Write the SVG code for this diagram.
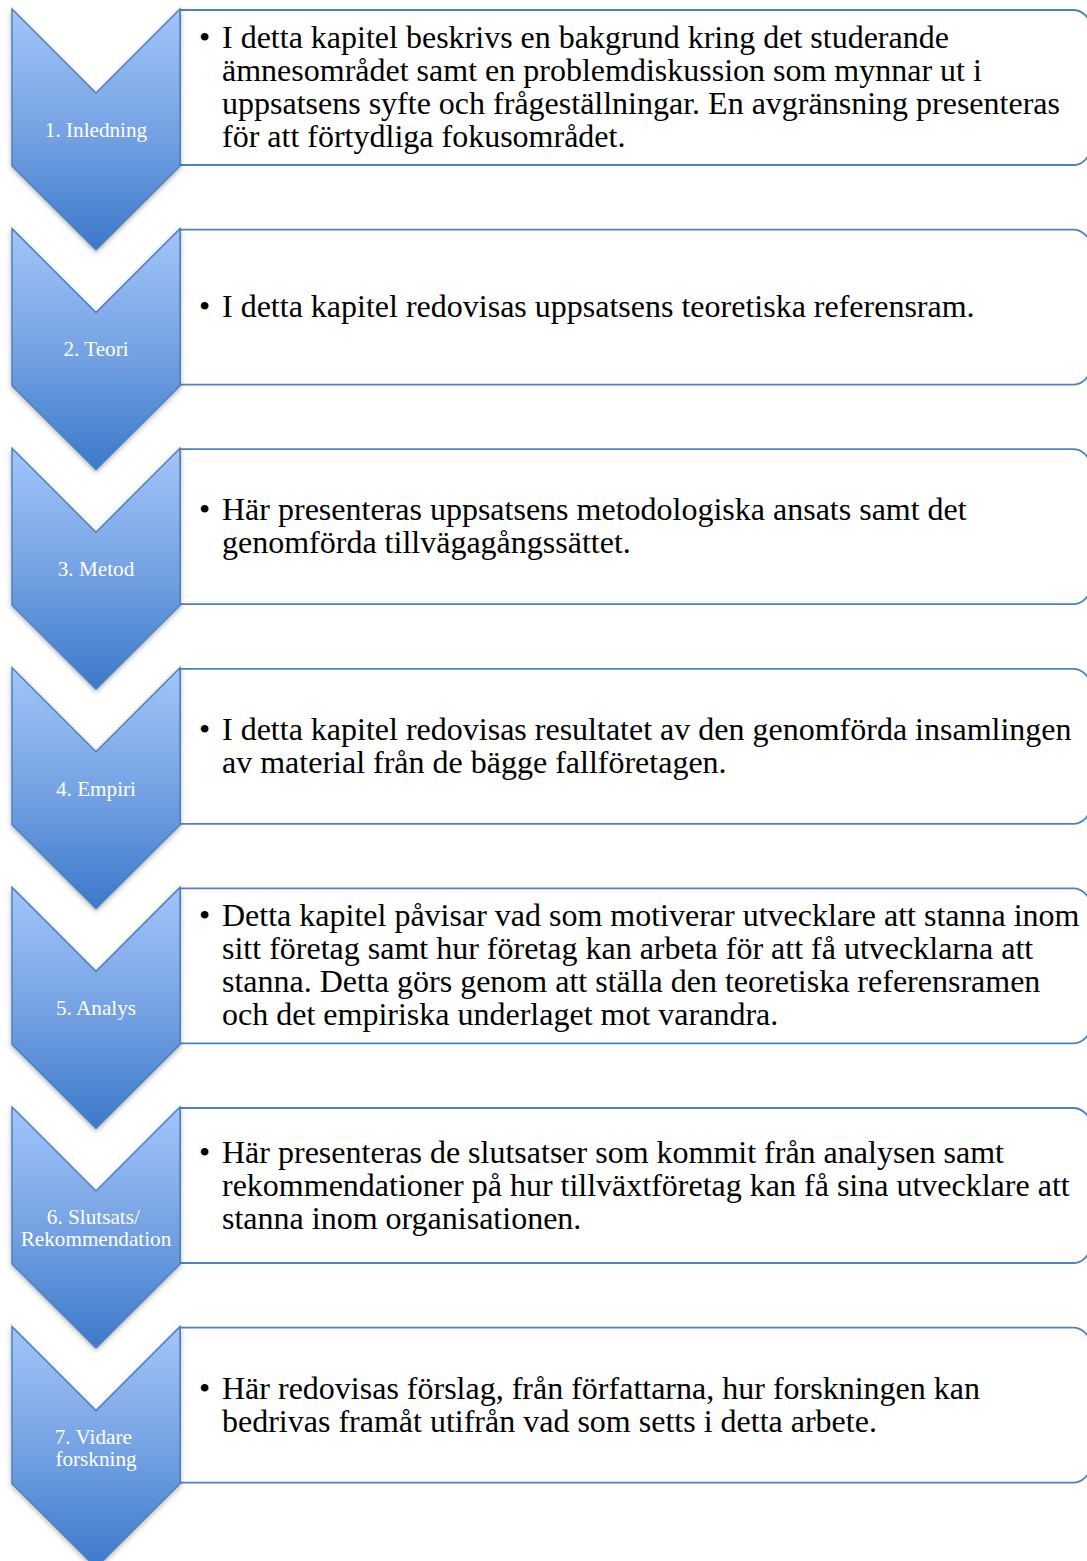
<svg xmlns="http://www.w3.org/2000/svg" width="1087" height="1561" viewBox="0 0 1087 1561">
  <defs>
    <linearGradient id="chevFill" x1="0" y1="0" x2="0" y2="1">
      <stop offset="0" stop-color="#a2c5fa"/>
      <stop offset="0.5" stop-color="#76a3e4"/>
      <stop offset="1" stop-color="#3b79c9"/>
    </linearGradient>
    <filter id="softShadow" x="-20%" y="-10%" width="140%" height="125%">
      <feDropShadow dx="0" dy="2" stdDeviation="2.5" flood-color="#000" flood-opacity="0.3"/>
    </filter>
    <!-- downward chevron, 168 wide, 241 tall -->
    <path id="chevron" d="M12,0 L96,84 L180,0 L180,157 L96,241 L12,157 Z"/>
    <!-- text panel with rounded right-hand corners -->
    <path id="panel" d="M180,1 H1073 A17,17 0 0 1 1090,18 V139 A17,17 0 0 1 1073,156 H180 Z"/>
  </defs>
  <style>
    .panel { fill: #ffffff; stroke: #4f81bd; stroke-width: 1.8; }
    .chev { fill: url(#chevFill); stroke: #4f81bd; stroke-width: 1.5; stroke-linejoin: miter; filter: url(#softShadow); }
    .label { font-family: "Liberation Serif", "Times New Roman", serif; font-size: 21.2px; fill: #ffffff; text-anchor: middle; }
    .body { font-family: "Liberation Serif", "Times New Roman", serif; font-size: 32px; fill: #000000; }
  </style>

  <g id="step1" transform="translate(0,9)">
    <use href="#panel" class="panel"/>
    <use href="#chevron" class="chev"/>
    <text class="label" x="96" y="128">1. Inledning</text>
    <text class="body" x="199" y="39">•</text>
    <text class="body">
      <tspan x="222" y="39">I detta kapitel beskrivs en bakgrund kring det studerande</tspan>
      <tspan x="222" y="72">ämnesområdet samt en problemdiskussion som mynnar ut i</tspan>
      <tspan x="222" y="105">uppsatsens syfte och frågeställningar. En avgränsning presenteras</tspan>
      <tspan x="222" y="138">för att förtydliga fokusområdet.</tspan>
    </text>
  </g>

  <g id="step2" transform="translate(0,228.6)">
    <use href="#panel" class="panel"/>
    <use href="#chevron" class="chev"/>
    <text class="label" x="96" y="127.5">2. Teori</text>
    <text class="body" x="199" y="88.5">•</text>
    <text class="body" x="222" y="88.5">I detta kapitel redovisas uppsatsens teoretiska referensram.</text>
  </g>

  <g id="step3" transform="translate(0,448.2)">
    <use href="#panel" class="panel"/>
    <use href="#chevron" class="chev"/>
    <text class="label" x="96" y="128">3. Metod</text>
    <text class="body" x="199" y="72">•</text>
    <text class="body">
      <tspan x="222" y="72">Här presenteras uppsatsens metodologiska ansats samt det</tspan>
      <tspan x="222" y="105">genomförda tillvägagångssättet.</tspan>
    </text>
  </g>

  <g id="step4" transform="translate(0,667.8)">
    <use href="#panel" class="panel"/>
    <use href="#chevron" class="chev"/>
    <text class="label" x="96" y="128">4. Empiri</text>
    <text class="body" x="199" y="72">•</text>
    <text class="body">
      <tspan x="222" y="72">I detta kapitel redovisas resultatet av den genomförda insamlingen</tspan>
      <tspan x="222" y="105">av material från de bägge fallföretagen.</tspan>
    </text>
  </g>

  <g id="step5" transform="translate(0,887.4)">
    <use href="#panel" class="panel"/>
    <use href="#chevron" class="chev"/>
    <text class="label" x="96" y="128">5. Analys</text>
    <text class="body" x="199" y="39">•</text>
    <text class="body">
      <tspan x="222" y="39">Detta kapitel påvisar vad som motiverar utvecklare att stanna inom</tspan>
      <tspan x="222" y="72">sitt företag samt hur företag kan arbeta för att få utvecklarna att</tspan>
      <tspan x="222" y="105">stanna. Detta görs genom att ställa den teoretiska referensramen</tspan>
      <tspan x="222" y="138">och det empiriska underlaget mot varandra.</tspan>
    </text>
  </g>

  <g id="step6" transform="translate(0,1107)">
    <use href="#panel" class="panel"/>
    <use href="#chevron" class="chev"/>
    <text class="label">
      <tspan x="96" y="117">6. Slutsats/</tspan>
      <tspan x="96" y="139">Rekommendation</tspan>
    </text>
    <text class="body" x="199" y="55.5">•</text>
    <text class="body">
      <tspan x="222" y="55.5">Här presenteras de slutsatser som kommit från analysen samt</tspan>
      <tspan x="222" y="88.5">rekommendationer på hur tillväxtföretag kan få sina utvecklare att</tspan>
      <tspan x="222" y="121.5">stanna inom organisationen.</tspan>
    </text>
  </g>

  <g id="step7" transform="translate(0,1326.6)">
    <use href="#panel" class="panel"/>
    <use href="#chevron" class="chev"/>
    <text class="label">
      <tspan x="96" y="117">7. Vidare</tspan>
      <tspan x="96" y="139">forskning</tspan>
    </text>
    <text class="body" x="199" y="72">•</text>
    <text class="body">
      <tspan x="222" y="72">Här redovisas förslag, från författarna, hur forskningen kan</tspan>
      <tspan x="222" y="105">bedrivas framåt utifrån vad som setts i detta arbete.</tspan>
    </text>
  </g>
</svg>
